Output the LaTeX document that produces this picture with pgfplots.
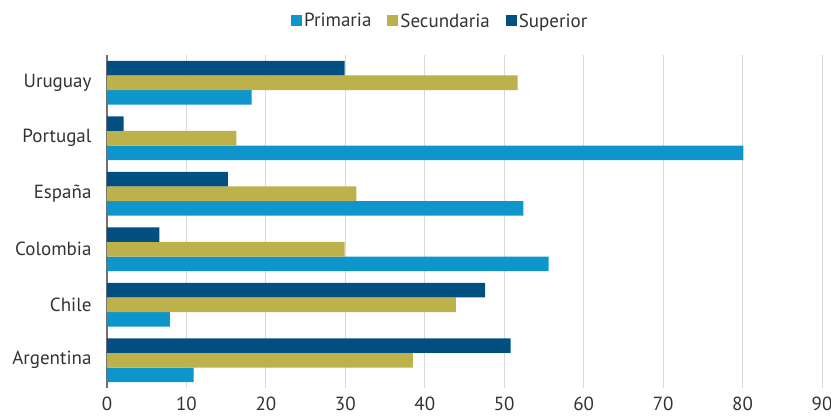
\documentclass[border=0pt]{standalone}
\usepackage{pgfplots}
\pgfplotsset{compat=1.18}
\usepackage{fontspec}
\setmainfont{PT Sans}
\definecolor{prim}{HTML}{0D95CC}
\definecolor{sec}{HTML}{BDB14C}
\definecolor{sup}{HTML}{025082}
\definecolor{gridgray}{HTML}{D9D9D9}
\definecolor{axgray}{HTML}{707070}
\definecolor{txt}{HTML}{333333}
\begin{document}
\begin{tikzpicture}
\begin{axis}[
  name=ax,
  xbar,
  scale only axis,
  width=715pt, height=333pt,
  xmin=0, xmax=90, ymin=-0.5, ymax=5.5,
  xtick={0,10,...,90},
  ytick={0,1,2,3,4,5},
  yticklabels={Argentina,Chile,Colombia,España,Portugal,Uruguay},
  xmajorgrids,
  major grid style={draw=gridgray, line width=1pt},
  axis x line*=bottom,
  axis y line*=left,
  x axis line style={draw=none},
  y axis line style={draw=axgray, line width=1.5pt, -},
  major tick length=0pt,
  tick style={draw=none},
  /pgf/number format/assume math mode=true,
  ticklabel style={font=\fontsize{19}{22}\selectfont, text=txt},
  xticklabel style={yshift=-5pt},
  yticklabel style={xshift=-12pt},
  bar width=0.263,
  legend columns=3,
  legend style={at={(0.466,1)}, anchor=center, yshift=34pt, draw=none,
    font=\fontsize{19}{22}\selectfont, text=txt, inner sep=0pt,
    /tikz/every even column/.append style={column sep=14pt}},
  legend image code/.code={\fill[#1,draw=none] (0pt,-5.5pt) rectangle (11pt,5.5pt);},
  legend cell align=left,
]
\addplot[fill=prim, draw=none, bar shift=-0.263] coordinates {
  (10.9,0) (7.9,1) (55.6,2) (52.4,3) (80.1,4) (18.2,5)};
\addplot[fill=sec, draw=none, bar shift=0] coordinates {
  (38.5,0) (43.9,1) (29.9,2) (31.4,3) (16.3,4) (51.7,5)};
\addplot[fill=sup, draw=none, bar shift=0.263] coordinates {
  (50.8,0) (47.6,1) (6.6,2) (15.2,3) (2.1,4) (29.9,5)};
\legend{Primaria,Secundaria,Superior}
\end{axis}
\pgfresetboundingbox
\useasboundingbox ([xshift=-107pt,yshift=-28pt]ax.south west) rectangle ([xshift=9pt,yshift=55pt]ax.north east);
\end{tikzpicture}
\end{document}
